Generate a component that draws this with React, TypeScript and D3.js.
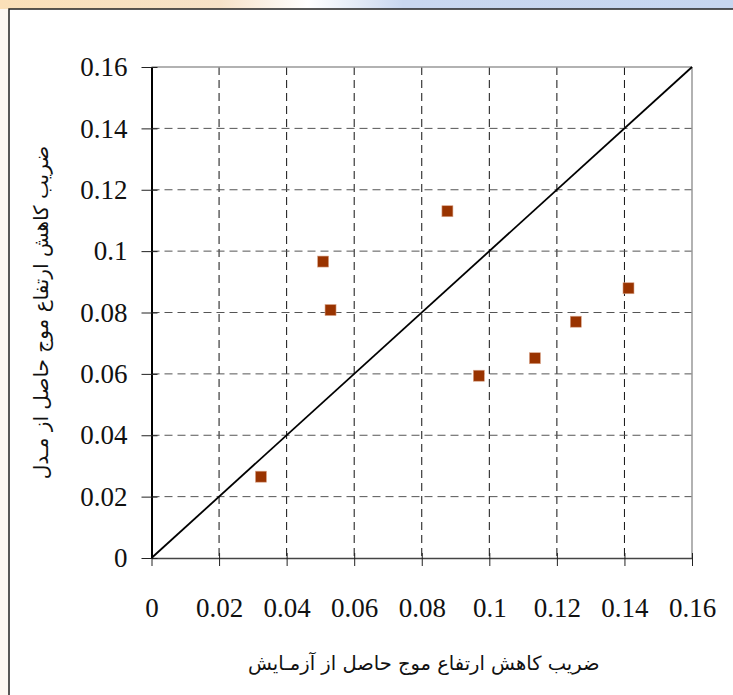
import React, { useRef, useEffect } from 'react';
import * as d3 from 'd3';

// measured (experiment) vs model wave height reduction coefficient
const experimentX = [0.0324, 0.0508, 0.053, 0.0876, 0.0969, 0.1135, 0.1256, 0.1412];
const modelY = [0.0265, 0.0966, 0.0808, 0.113, 0.0594, 0.0651, 0.077, 0.0879];
const tickValues = [0, 0.02, 0.04, 0.06, 0.08, 0.1, 0.12, 0.14, 0.16];
const lineEnds = [0, 0.16];
const xTitle = 'ضریب کاهش ارتفاع موج حاصل از آزمـایش';
const yTitle = 'ضریب کاهش ارتفاع موج حاصل از مـدل';

export default function App() {
  const ref = useRef<SVGSVGElement>(null);

  useEffect(() => {
    if (!ref.current) return;
    const svg = d3.select(ref.current);
    svg.selectAll('*').remove();

    const left = 151.5, right = 692, top = 67, bottom = 558;
    const x = d3.scaleLinear().domain([0, 0.16]).range([left, right]);
    const y = d3.scaleLinear().domain([0, 0.16]).range([bottom, top]);
    const fmt = (d: number) => String(+d.toFixed(2));

    // page strip + frame
    const grad = svg.append('defs').append('linearGradient').attr('id', 'strip');
    grad.append('stop').attr('offset', '0%').attr('stop-color', '#fbe0b8');
    grad.append('stop').attr('offset', '30%').attr('stop-color', '#f6e2c8');
    grad.append('stop').attr('offset', '42%').attr('stop-color', '#ffffff');
    grad.append('stop').attr('offset', '55%').attr('stop-color', '#c9d7ef');
    grad.append('stop').attr('offset', '100%').attr('stop-color', '#c6d6f0');
    svg.append('rect').attr('x', 0).attr('y', 0).attr('width', 733).attr('height', 9).attr('fill', 'url(#strip)');
    svg.append('rect').attr('x', 0).attr('y', 9).attr('width', 9).attr('height', 686).attr('fill', '#fdf8f2');
    svg.append('rect').attr('x', 9).attr('y', 9).attr('width', 740).attr('height', 700)
      .attr('fill', '#fff').attr('stroke', '#222').attr('stroke-width', 1.5);

    const inner = tickValues.slice(1, -1);

    // grid
    svg.append('g').selectAll('line').data(inner).join('line')
      .attr('x1', d => x(d)).attr('x2', d => x(d)).attr('y1', top).attr('y2', bottom)
      .attr('stroke', '#111').attr('stroke-width', 1).attr('stroke-dasharray', '8,5');
    svg.append('g').selectAll('line').data(inner).join('line')
      .attr('y1', d => y(d)).attr('y2', d => y(d)).attr('x1', left).attr('x2', right)
      .attr('stroke', '#555').attr('stroke-width', 1).attr('stroke-dasharray', '8,5');

    // plot border
    svg.append('line').attr('x1', left).attr('x2', right).attr('y1', top).attr('y2', top)
      .attr('stroke', '#999').attr('stroke-width', 1.5);
    svg.append('line').attr('x1', right).attr('x2', right).attr('y1', top).attr('y2', bottom)
      .attr('stroke', '#999').attr('stroke-width', 1.5);

    // axes
    const xAxis = d3.axisBottom(x).tickValues(tickValues).tickFormat(d => fmt(+d))
      .tickSizeInner(8).tickSizeOuter(0).tickPadding(32);
    const gx = svg.append('g').attr('transform', `translate(0,${bottom})`).call(xAxis);
    gx.select('.domain').attr('stroke', '#444').attr('stroke-width', 1.5);
    gx.selectAll('.tick line').attr('stroke', '#222').attr('y1', -5);
    gx.selectAll('text').attr('font-family', '"Liberation Serif", serif').attr('font-size', 27).attr('fill', '#111');

    const yAxis = d3.axisLeft(y).tickValues(tickValues).tickFormat(d => fmt(+d))
      .tickSizeInner(10).tickSizeOuter(0).tickPadding(14);
    const gy = svg.append('g').attr('transform', `translate(${left},0)`).call(yAxis);
    gy.select('.domain').attr('stroke', '#000').attr('stroke-width', 2);
    gy.selectAll('.tick line').attr('stroke', '#222').attr('x1', 6);
    gy.selectAll('text').attr('font-family', '"Liberation Serif", serif').attr('font-size', 27).attr('fill', '#111');

    // 1:1 line
    svg.append('path')
      .attr('d', d3.line<number>().x(d => x(d)).y(d => y(d))(lineEnds))
      .attr('stroke', '#000').attr('stroke-width', 1.8).attr('fill', 'none');

    // points
    const s = 11;
    svg.append('g').selectAll('rect').data(experimentX).join('rect')
      .attr('x', d => x(d) - s / 2).attr('y', (d, i) => y(modelY[i]) - s / 2)
      .attr('width', s).attr('height', s)
      .attr('fill', '#993300').attr('stroke', '#d9a58a').attr('stroke-width', 0.6);

    // titles
    svg.append('text').attr('x', (left + right) / 2 + 2).attr('y', 670)
      .attr('text-anchor', 'middle').attr('direction', 'rtl')
      .attr('font-family', '"DejaVu Sans", sans-serif').attr('font-size', 19.5).attr('fill', '#111')
      .text(xTitle);
    svg.append('text').attr('transform', `translate(48,${(top + bottom) / 2}) rotate(-90)`)
      .attr('text-anchor', 'middle').attr('direction', 'rtl')
      .attr('font-family', '"DejaVu Sans", sans-serif').attr('font-size', 20).attr('fill', '#111')
      .text(yTitle);
  });

  return (
    <svg ref={ref} width={733} height={695}
      style={{ position: 'absolute', left: 0, top: 0, display: 'block' }} />
  );
}
